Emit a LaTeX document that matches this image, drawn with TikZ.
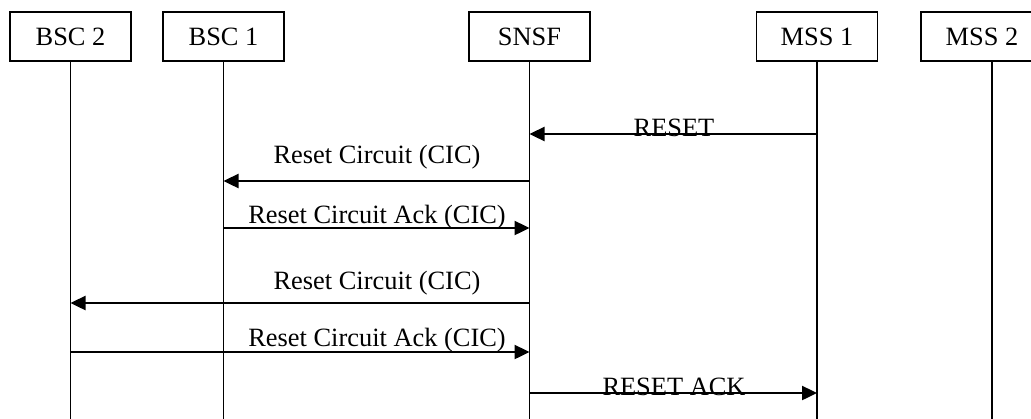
\documentclass[tikz,border=0pt]{standalone}
\usepackage{fontspec}
\setmainfont{Liberation Serif}
\usetikzlibrary{arrows.meta}
\begin{document}
\begin{tikzpicture}[x=.5pt,y=-.5pt,
	ent/.style={draw,line width=.75pt,minimum width=60.5pt,minimum height=24.5pt,inner sep=0pt,font=\fontsize{13.2}{15}\selectfont},
	life/.style={line width=.8pt},
	msg/.style={line width=1.2pt,-{Triangle[length=7.5pt,width=7pt]}},
	lbl/.style={anchor=base,inner sep=0pt,font=\fontsize{13.2}{15}\selectfont}]
		\useasboundingbox (0,0) rectangle (1031,418);
		\node[ent] (B2) at (70.5,36.5) {BSC 2};
		\node[ent] (B1) at (223.5,36.5) {BSC 1};
		\node[ent] (SN) at (529.5,36.5) {SNSF};
		\node[ent] (M1) at (817,36.5) {MSS 1};
		\node[ent,minimum width=71pt] (M2) at (992,36.5) {\hspace*{-10pt}MSS 2};
		
		\draw[life] (B2.south)--(B2.south |- 0,420);
		\draw[life] (B1.south)--(B1.south |- 0,420);
		\draw[life] (SN.south)--(SN.south |- 0,420);
		\draw[life] (M1.south)--(M1.south |- 0,420);
		\draw[life] (M2.south)--(M2.south |- 0,420);
		
		\draw[msg] (M1.south |- 0,134)--(SN.south |- 0,134);
		\node[lbl] (RA) at (674,136) {RESET};
		\draw[msg] (SN.south |- 0,181)--(B1.south |- 0,181);
		\node[lbl] (RB) at (377,163) {Reset Circuit (CIC)};
		\draw[msg] (B1.south |- 0,228)--(SN.south |- 0,228);
		\node[lbl] (RC) at (377,223) {Reset Circuit Ack (CIC)};
		\draw[msg] (SN.south |- 0,303)--(B2.south |- 0,303);
		\node[lbl] (RD) at (377,289) {Reset Circuit (CIC)};
		\draw[msg] (B2.south |- 0,352)--(SN.south |- 0,352);
		\node[lbl] (RE) at (377,346) {Reset Circuit Ack (CIC)};
		\draw[msg] (SN.south |- 0,393)--(M1.south |- 0,393);
		\node[lbl] (RF) at (674,395) {RESET ACK};
\end{tikzpicture}
\end{document}
